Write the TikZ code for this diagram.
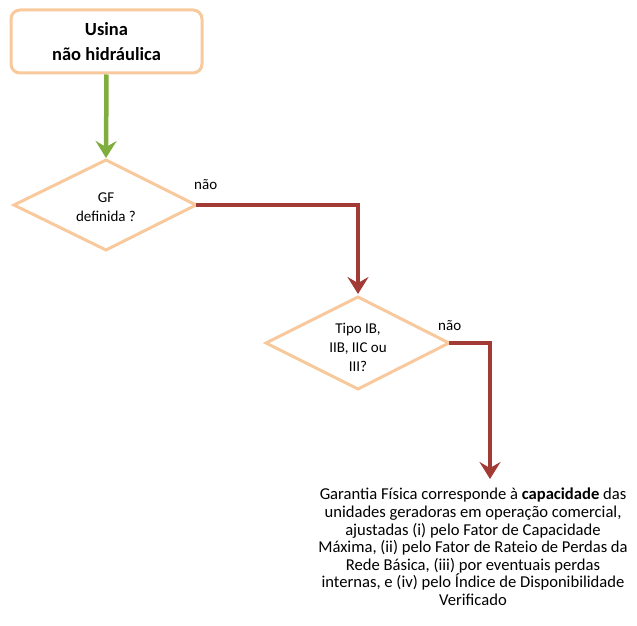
\documentclass[tikz,border=0pt]{standalone}
\usepackage{fontspec}
\setmainfont{Carlito}
\usetikzlibrary{shapes.geometric,arrows.meta}
\definecolor{boxc}{HTML}{F8C99C}
\definecolor{grn}{HTML}{7FAE3E}
\definecolor{rd}{HTML}{A23B35}
\tikzset{
  box/.style={draw=boxc, line width=3pt, rounded corners=9pt, fill=white},
  dia/.style={draw=boxc, line width=3pt, fill=white},
  garrow/.style={draw=grn, line width=4.5pt, -{Stealth[width=21pt,length=17pt,inset=6pt]}},
  rarrow/.style={draw=rd, line width=4.5pt, -{Stealth[width=21pt,length=17pt,inset=6pt]}},
  lbl/.style={font=\fontsize{15}{19}\selectfont, align=center, inner sep=0pt},
}
\begin{document}
\begin{tikzpicture}[x=1pt,y=-1pt]
\useasboundingbox (0,0) rectangle (637,626);
% top box
\draw[box] (11,10) rectangle (202,73);
\node[lbl, font=\fontsize{18.5}{25}\selectfont\bfseries] (start) at (106.5,42) {Usina\\não hidráulica};
\coordinate (sb) at (106.5,74.5);
% diamond 1
\draw[dia] (14,205) -- (106,160) -- (196,205) -- (106,250) -- cycle;
\coordinate (d1t) at (106,158);
\coordinate (d1r) at (196,205);
\node[lbl] (d1) at (106,207) {GF\\definida ?};
\node[lbl, anchor=west] (n1) at (194,185) {não};
% diamond 2
\draw[dia] (266,343) -- (358,297) -- (449,343) -- (358,389) -- cycle;
\coordinate (d2t) at (358,294);
\coordinate (d2r) at (449,343);
\node[lbl] (d2) at (358,347) {Tipo IB,\\IIB, IIC ou\\III?};
\node[lbl, anchor=west] (n2) at (438,326) {não};
% result text
\node[lbl, font=\fontsize{16.6}{17.6}\selectfont, anchor=north] (res) at (473,488) {Garantia Física corresponde à \textbf{capacidade} das\\
unidades geradoras em operação comercial,\\
ajustadas (i) pelo Fator de Capacidade\\
Máxima, (ii) pelo Fator de Rateio de Perdas da\\
Rede Básica, (iii) por eventuais perdas\\
internas, e (iv) pelo Índice de Disponibilidade\\
Verificado};
\coordinate (rt) at (490,479);
% arrows
\draw[garrow] (sb) -- (d1t);
\draw[rarrow] (d1r) -- (358,205) -- (d2t);
\draw[rarrow] (d2r) -- (490,343) -- (rt);
\end{tikzpicture}
\end{document}
